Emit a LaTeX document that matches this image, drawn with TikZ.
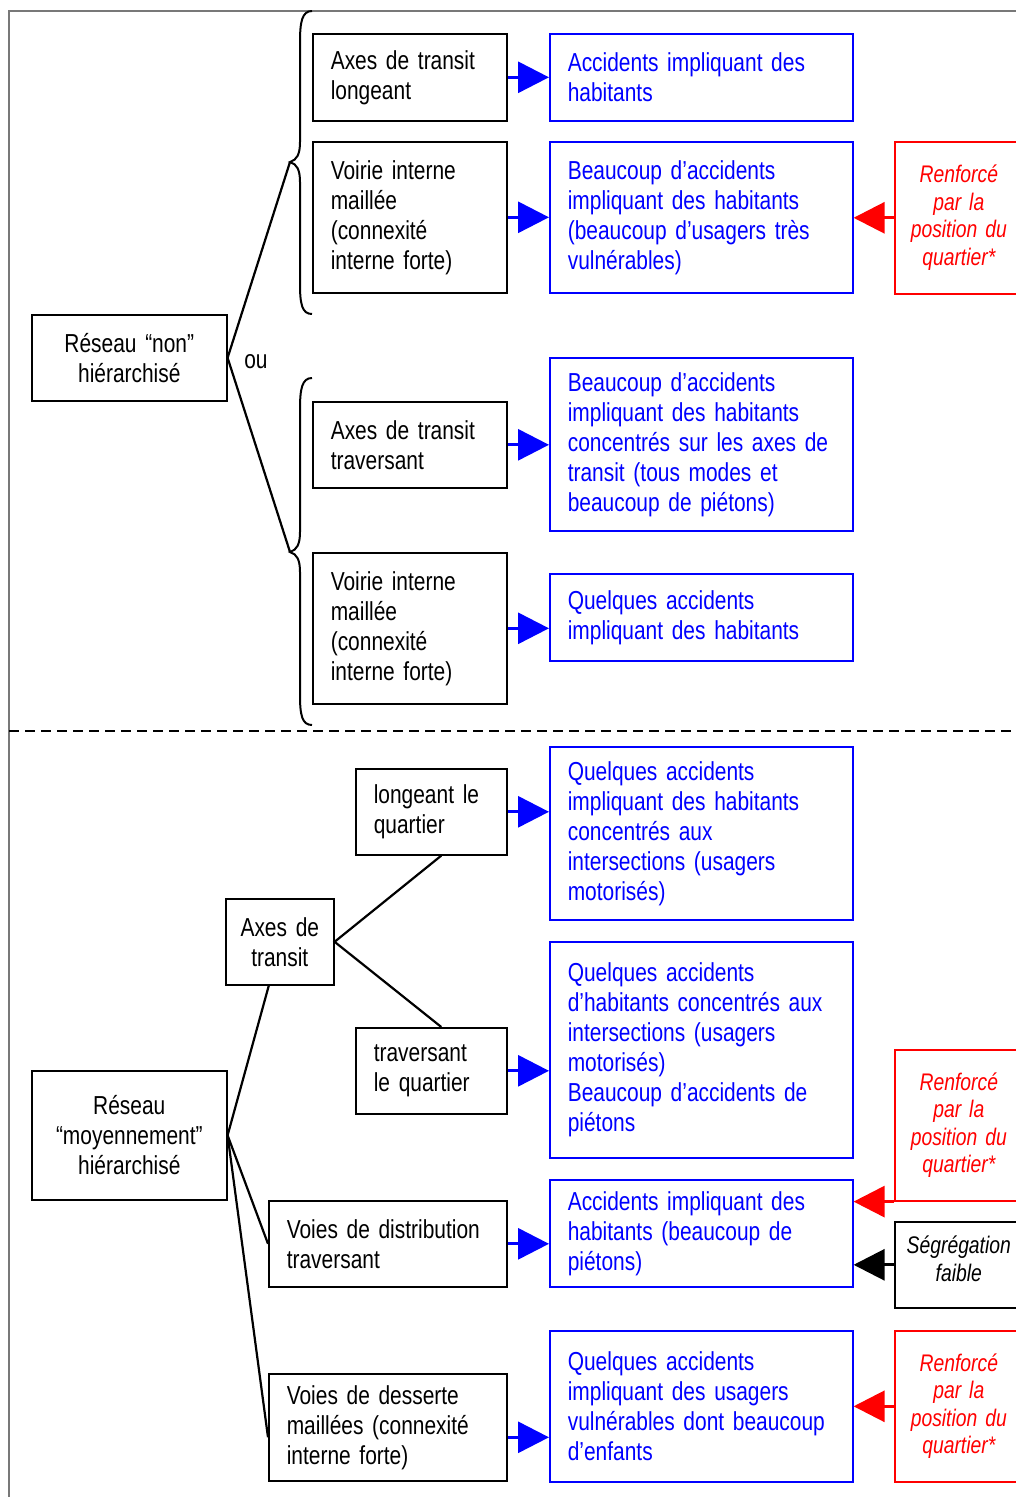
\documentclass[tikz,border=0pt]{standalone}
\usepackage{fontspec}
\usetikzlibrary{arrows.meta}
\newfontfamily\nf[FakeStretch=0.805]{Liberation Sans}
\newcommand\mainfnt{\nf\fontsize{26}{30}\selectfont}
\newcommand\itfnt{\nf\itshape\fontsize{24}{27.5}\selectfont}
\definecolor{pblue}{RGB}{0,0,255}
\definecolor{pred}{RGB}{255,0,0}
\definecolor{framegray}{RGB}{120,120,120}
\begin{document}
\begin{tikzpicture}[x=1pt,y=-1pt,
  base/.style={draw, line width=1.6pt, anchor=north west, inner xsep=18pt, inner ysep=0pt, align=left, font=\mainfnt},
  bbox/.style={base, draw=black, text=black},
  cbox/.style={base, draw=black, text=black, align=center, inner xsep=4pt},
  blbox/.style={base, draw=pblue, text=pblue},
  rdbox/.style={base, draw=pred, text=pred, align=center, inner xsep=4pt, font=\itfnt},
  sgbox/.style={base, draw=black, text=black, align=center, inner xsep=4pt, font=\itfnt},
  conn/.style={line width=2.2pt, black},
  brace/.style={line width=2pt, black},
  barrow/.style={line width=3pt, pblue, -{Triangle[length=31pt,width=31pt]}},
  rarrow/.style={line width=3pt, pred, -{Triangle[length=31pt,width=31pt]}},
  karrow/.style={line width=3pt, black, -{Triangle[length=31pt,width=31pt]}}
]
\useasboundingbox (0,0) rectangle (1016,1497);
\clip (0,0) rectangle (1016,1497);
% frame
\draw[framegray, line width=1.5pt] (1016,11) -- (9,11) -- (9,1497);
\draw[black, line width=2pt, dash pattern=on 10pt off 6pt] (9,731) -- (1016,731);

% ---------- top section ----------
\node[cbox, minimum width=195, minimum height=86, text width=187] (r1) at (31,314) {Réseau “non”\\hiérarchisé};
\node[bbox, minimum width=194, minimum height=87, text width=158] (a1) at (312,33) {Axes de transit\\longeant};
\node[bbox, minimum width=194, minimum height=151, text width=158] (v1) at (312,141) {Voirie interne\\maillée\\(connexité\\interne forte)};
\node[bbox, minimum width=194, minimum height=86, text width=158] (a2) at (312,401) {Axes de transit\\traversant};
\node[bbox, minimum width=194, minimum height=151, text width=158] (v2) at (312,552) {Voirie interne\\maillée\\(connexité\\interne forte)};

\node[blbox, minimum width=303, minimum height=87, text width=267] (b1) at (549,33) {Accidents impliquant des\\habitants};
\node[blbox, minimum width=303, minimum height=151, text width=267] (b2) at (549,141) {Beaucoup d’accidents\\impliquant des habitants\\(beaucoup d’usagers très\\vulnérables)};
\node[blbox, minimum width=303, minimum height=173, text width=267] (b3) at (549,357) {Beaucoup d’accidents\\impliquant des habitants\\concentrés sur les axes de\\transit (tous modes et\\beaucoup de piétons)};
\node[blbox, minimum width=303, minimum height=87, text width=267] (b4) at (549,573) {Quelques accidents\\impliquant des habitants};

\node[rdbox, minimum width=128, minimum height=152, text width=120] (rd1) at (894,141) {Renforcé\\par la\\position du\\quartier*};

\node[font=\mainfnt, inner sep=0pt] (ou) at (256,362) {ou};

% braces
\coordinate (t1) at (290,162);
\coordinate (t2) at (290,552);
\draw[brace] (312,11) .. controls (302,11) and (300,22) .. (300,42) -- (300,142)
  .. controls (300,154) and (297,160) .. (t1) .. controls (297,164) and (300,170) .. (300,182)
  -- (300,284) .. controls (300,304) and (302,314) .. (312,314);
\draw[brace] (312,378) .. controls (302,378) and (300,389) .. (300,409) -- (300,532)
  .. controls (300,544) and (297,550) .. (t2) .. controls (297,554) and (300,560) .. (300,572)
  -- (300,695) .. controls (300,715) and (302,725) .. (312,725);
\draw[conn] (t1) -- (r1.east) -- (t2);

\draw[barrow] (a1.east) -- (a1.east -| b1.west);
\draw[barrow] (v1.east) -- (v1.east -| b2.west);
\draw[barrow] (a2.east) -- (a2.east -| b3.west);
\draw[barrow] (v2.east) -- (v2.east -| b4.west);
\draw[rarrow] (rd1.west) -- (rd1.west -| b2.east);

% ---------- bottom section ----------
\node[bbox, minimum width=151, minimum height=86, text width=115] (l1) at (355,768) {longeant le\\quartier};
\node[bbox, minimum width=151, minimum height=86, text width=115] (tr1) at (355,1027) {traversant\\le quartier};
\node[cbox, minimum width=108, minimum height=86, text width=100] (ax) at (225,898) {Axes de\\transit};
\node[cbox, minimum width=195, minimum height=129, text width=187] (r2) at (31,1070) {Réseau\\“moyennement”\\hiérarchisé};
\node[bbox, minimum width=238, minimum height=86, text width=202] (vd) at (268,1200) {Voies de distribution\\traversant};
\node[bbox, minimum width=238, minimum height=107, text width=202] (vs) at (268,1373) {Voies de desserte\\maillées (connexité\\interne forte)};

\node[blbox, minimum width=303, minimum height=173, text width=267] (b5) at (549,746) {Quelques accidents\\impliquant des habitants\\concentrés aux\\intersections (usagers\\motorisés)};
\node[blbox, minimum width=303, minimum height=216, text width=267] (b6) at (549,941) {Quelques accidents\\d’habitants concentrés aux\\intersections (usagers\\motorisés)\\Beaucoup d’accidents de\\piétons};
\node[blbox, minimum width=303, minimum height=107, text width=267] (b7) at (549,1179) {Accidents impliquant des\\habitants (beaucoup de\\piétons)};
\node[blbox, minimum width=303, minimum height=151, text width=267] (b8) at (549,1330) {Quelques accidents\\impliquant des usagers\\vulnérables dont beaucoup\\d’enfants};

\node[rdbox, minimum width=128, minimum height=151, text width=120] (rd2) at (894,1049) {Renforcé\\par la\\position du\\quartier*};
\node[sgbox, minimum width=128, minimum height=86, text width=120, text depth=40pt] (sg) at (894,1221) {Ségrégation\\faible};
\node[rdbox, minimum width=128, minimum height=151, text width=120] (rd3) at (894,1330) {Renforcé\\par la\\position du\\quartier*};

\draw[conn] ([xshift=10pt]l1.south) -- (ax.east) -- ([xshift=10pt]tr1.north);
\draw[conn] ([xshift=-11pt]ax.south) -- (r2.east) -- (vd.west);
\draw[conn] (r2.east) -- ([yshift=-10pt]vs.west);

\draw[barrow] (l1.east) -- (l1.east -| b5.west);
\draw[barrow] (tr1.east) -- (tr1.east -| b6.west);
\draw[barrow] (vd.east) -- (vd.east -| b7.west);
\draw[barrow] ([yshift=-10pt]vs.east) -- ([yshift=-10pt]vs.east -| b8.west);
\draw[rarrow] (rd2.south west) -- (rd2.south west -| b7.east);
\draw[karrow] (sg.west) -- (sg.west -| b7.east);
\draw[rarrow] (rd3.west) -- (rd3.west -| b8.east);
\end{tikzpicture}
\end{document}
